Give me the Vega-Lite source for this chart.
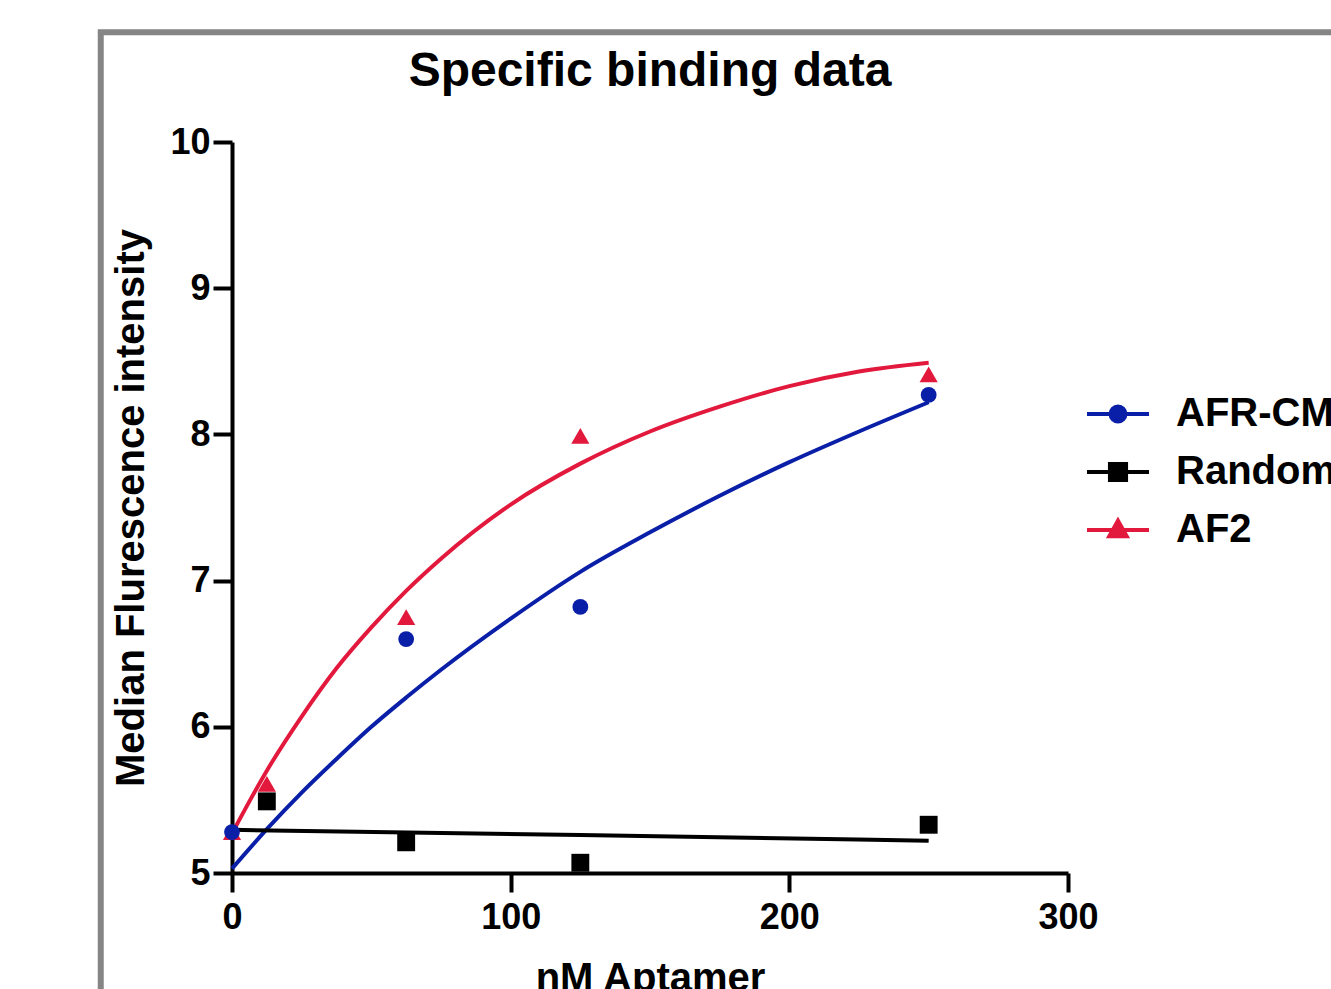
{
  "$schema": "https://vega.github.io/schema/vega-lite/v6.json",
  "autosize": {"type": "none"},
  "padding": {"left": 232, "top": 142, "right": 263, "bottom": 116},
  "width": 836,
  "height": 731,
  "background": "white",
  "title": {
    "text": "Specific binding data",
    "font": "Liberation Sans",
    "fontSize": 48,
    "fontWeight": "bold",
    "color": "black",
    "anchor": "middle",
    "frame": "group",
    "baseline": "alphabetic",
    "offset": -105
  },
  "config": {
    "view": {"stroke": null},
    "axis": {
      "grid": false,
      "domainColor": "black",
      "domainWidth": 4,
      "tickColor": "black",
      "tickWidth": 4,
      "tickSize": 19,
      "labelFont": "Liberation Sans",
      "labelFontSize": 36,
      "labelFontWeight": "bold",
      "labelColor": "black",
      "titleFont": "Liberation Sans",
      "titleFontSize": 40,
      "titleFontWeight": "bold",
      "titleColor": "black"
    },
    "legend": {
      "orient": "none",
      "legendX": 853,
      "legendY": 239,
      "padding": 0,
      "labelFont": "Liberation Sans",
      "labelFontSize": 40,
      "labelFontWeight": "bold",
      "labelColor": "black",
      "labelOffset": 25,
      "labelLimit": 500,
      "symbolSize": 3844,
      "symbolStrokeWidth": 4,
      "symbolOpacity": 1,
      "rowPadding": 5
    }
  },
  "datasets": {
    "points": [
      {"series": "AF2", "conc": 0, "mfi": 5.28},
      {"series": "AF2", "conc": 12.5, "mfi": 5.61},
      {"series": "AF2", "conc": 62.5, "mfi": 6.75},
      {"series": "AF2", "conc": 125, "mfi": 7.99},
      {"series": "AF2", "conc": 250, "mfi": 8.41},
      {"series": "Random", "conc": 12.5, "mfi": 5.49},
      {"series": "Random", "conc": 62.5, "mfi": 5.21},
      {"series": "Random", "conc": 125, "mfi": 5.07},
      {"series": "Random", "conc": 250, "mfi": 5.33},
      {"series": "AFR-CM", "conc": 0, "mfi": 5.28},
      {"series": "AFR-CM", "conc": 62.5, "mfi": 6.60},
      {"series": "AFR-CM", "conc": 125, "mfi": 6.82},
      {"series": "AFR-CM", "conc": 250, "mfi": 8.27}
    ],
    "fits": [
      {"series": "AFR-CM", "conc": 0, "mfi": 5.03},
      {"series": "AFR-CM", "conc": 12.5, "mfi": 5.30},
      {"series": "AFR-CM", "conc": 25, "mfi": 5.55},
      {"series": "AFR-CM", "conc": 37.5, "mfi": 5.78},
      {"series": "AFR-CM", "conc": 50, "mfi": 6.00},
      {"series": "AFR-CM", "conc": 62.5, "mfi": 6.20},
      {"series": "AFR-CM", "conc": 75, "mfi": 6.39},
      {"series": "AFR-CM", "conc": 100, "mfi": 6.74},
      {"series": "AFR-CM", "conc": 125, "mfi": 7.06},
      {"series": "AFR-CM", "conc": 150, "mfi": 7.33},
      {"series": "AFR-CM", "conc": 175, "mfi": 7.58},
      {"series": "AFR-CM", "conc": 200, "mfi": 7.81},
      {"series": "AFR-CM", "conc": 225, "mfi": 8.02},
      {"series": "AFR-CM", "conc": 250, "mfi": 8.22},
      {"series": "Random", "conc": 0, "mfi": 5.295},
      {"series": "Random", "conc": 125, "mfi": 5.26},
      {"series": "Random", "conc": 250, "mfi": 5.22},
      {"series": "AF2", "conc": 0, "mfi": 5.27},
      {"series": "AF2", "conc": 12.5, "mfi": 5.70},
      {"series": "AF2", "conc": 25, "mfi": 6.07},
      {"series": "AF2", "conc": 37.5, "mfi": 6.40},
      {"series": "AF2", "conc": 50, "mfi": 6.68},
      {"series": "AF2", "conc": 62.5, "mfi": 6.93},
      {"series": "AF2", "conc": 75, "mfi": 7.15},
      {"series": "AF2", "conc": 100, "mfi": 7.52},
      {"series": "AF2", "conc": 125, "mfi": 7.80},
      {"series": "AF2", "conc": 150, "mfi": 8.02},
      {"series": "AF2", "conc": 175, "mfi": 8.19},
      {"series": "AF2", "conc": 200, "mfi": 8.33},
      {"series": "AF2", "conc": 225, "mfi": 8.43},
      {"series": "AF2", "conc": 250, "mfi": 8.49}
    ],
    "frame": [{"part": "border"}]
  },
  "layer": [
    {
      "data": {"name": "frame"},
      "mark": {"type": "rect", "fill": null, "stroke": "#858585", "strokeWidth": 6, "clip": false},
      "encoding": {
        "x": {"datum": -47.1, "type": "quantitative", "scale": {"domain": [0, 300], "nice": false, "zero": false}},
        "x2": {"datum": 420},
        "y": {"datum": 10.75, "type": "quantitative", "scale": {"domain": [5, 10], "nice": false, "zero": false}},
        "y2": {"datum": 3}
      }
    },
    {
      "data": {"name": "fits"},
      "mark": {"type": "line", "strokeWidth": 4, "interpolate": "monotone"},
      "encoding": {
        "x": {
          "field": "conc", "type": "quantitative",
          "scale": {"domain": [0, 300], "nice": false, "zero": false},
          "axis": {"values": [0, 100, 200, 300], "format": "d", "title": "nM Aptamer", "labelPadding": 8, "titlePadding": 23, "labelFlush": false}
        },
        "y": {
          "field": "mfi", "type": "quantitative",
          "scale": {"domain": [5, 10], "nice": false, "zero": false},
          "axis": {"values": [5, 6, 7, 8, 9, 10], "format": "d", "title": "Median Flurescence intensity", "labelPadding": 3, "titlePadding": 18, "labelFlush": false}
        },
        "color": {
          "field": "series", "type": "nominal",
          "scale": {"domain": ["AFR-CM", "Random", "AF2"], "range": ["#0a1fa8", "#000000", "#e2193d"]},
          "legend": {
            "title": null,
            "encode": {
              "symbols": {
                "update": {
                  "shape": {"signal": "datum.value === 'AFR-CM' ? 'M-1,0H1M0.24,0A0.24,0.24,0,1,1,-0.24,0A0.24,0.24,0,1,1,0.24,0Z' : datum.value === 'Random' ? 'M-1,0H1M-0.26,-0.26H0.26V0.26H-0.26Z' : 'M-1,0H1M0,-0.3L0.28,0.2L-0.28,0.2Z'"},
                  "fill": {"signal": "datum.value === 'AFR-CM' ? '#0a1fa8' : datum.value === 'Random' ? '#000000' : '#e2193d'"},
                  "stroke": {"signal": "datum.value === 'AFR-CM' ? '#0a1fa8' : datum.value === 'Random' ? '#000000' : '#e2193d'"},
                  "strokeWidth": {"value": 4},
                  "size": {"value": 3844},
                  "opacity": {"value": 1},
                  "fillOpacity": {"value": 1}
                }
              }
            }
          }
        }
      }
    },
    {
      "data": {"name": "points"},
      "transform": [{"filter": "datum.series === 'AF2'"}],
      "mark": {"type": "point", "filled": true, "opacity": 1, "shape": "triangle-up", "size": 330},
      "encoding": {
        "x": {"field": "conc", "type": "quantitative"},
        "y": {"field": "mfi", "type": "quantitative"},
        "color": {"field": "series", "type": "nominal"}
      }
    },
    {
      "data": {"name": "points"},
      "transform": [{"filter": "datum.series === 'Random'"}],
      "mark": {"type": "point", "filled": true, "opacity": 1, "shape": "square", "size": 320},
      "encoding": {
        "x": {"field": "conc", "type": "quantitative"},
        "y": {"field": "mfi", "type": "quantitative"},
        "color": {"field": "series", "type": "nominal"}
      }
    },
    {
      "data": {"name": "points"},
      "transform": [{"filter": "datum.series === 'AFR-CM'"}],
      "mark": {"type": "point", "filled": true, "opacity": 1, "shape": "circle", "size": 250},
      "encoding": {
        "x": {"field": "conc", "type": "quantitative"},
        "y": {"field": "mfi", "type": "quantitative"},
        "color": {"field": "series", "type": "nominal"}
      }
    }
  ]
}
